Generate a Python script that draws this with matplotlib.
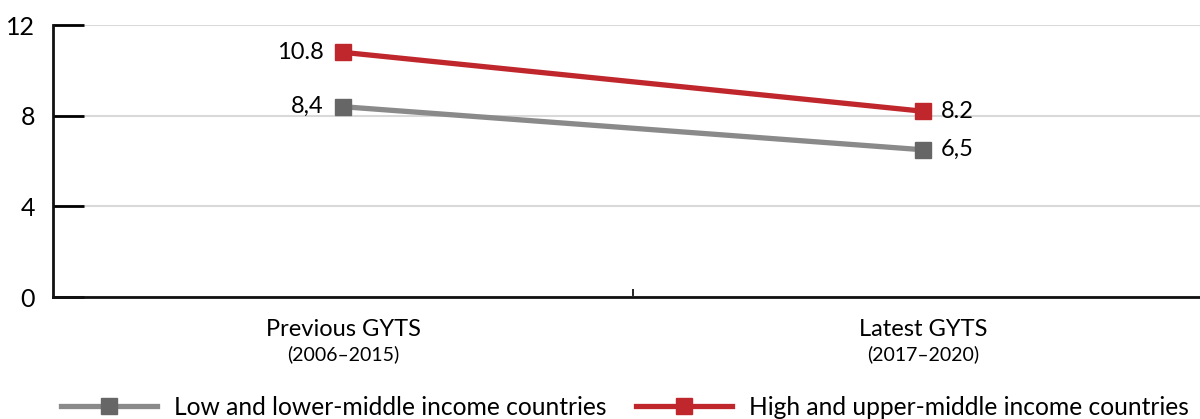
import numpy as np
import matplotlib.pyplot as plt

# categories and values
periods = ["Previous GYTS", "Latest GYTS"]
period_years = ["(2006–2015)", "(2017–2020)"]
low_income = [8.4, 6.5]
high_income = [10.8, 8.2]
low_labels = ["8,4", "6,5"]
high_labels = ["10.8", "8.2"]
y_ticks = [0, 4, 8, 12]

plt.rcParams['font.family'] = ['Lato', 'DejaVu Sans']

fig = plt.figure(figsize=(12, 4.19), dpi=100)
ax = fig.add_axes([0.0442, 0.291, 0.9667, 0.649])

x = np.arange(len(periods))
red = '#c0272d'
grey_line = '#8a8a8a'
grey_mark = '#666666'

ax.plot(x, low_income, color=grey_line, lw=3.8, marker='s', ms=12,
        mfc=grey_mark, mec=grey_mark, label='Low and lower-middle income countries', zorder=3)
ax.plot(x, high_income, color=red, lw=3.8, marker='s', ms=12,
        mfc=red, mec=red, label='High and upper-middle income countries', zorder=4)

# data labels: left of the first point, right of the last point
for i, (lo, hi) in enumerate(zip(low_income, high_income)):
    if i == 0:
        off, ha = -14, 'right'
    else:
        off, ha = 13, 'left'
    ax.annotate(low_labels[i], (x[i], lo), xytext=(off, 0), textcoords='offset points',
                ha=ha, va='center', fontsize=17)
    ax.annotate(high_labels[i], (x[i], hi), xytext=(off, 0), textcoords='offset points',
                ha=ha, va='center', fontsize=17)

ax.set_xlim(-0.5, 1.5)
ax.set_ylim(0, 12)
ax.set_yticks(y_ticks)
ax.tick_params(axis='y', direction='in', length=22, width=2, pad=13, labelsize=18)
ax.grid(axis='y', color='#d9d9d9', lw=1.5)
ax.set_axisbelow(True)

ax.set_xticks(x)
ax.set_xticklabels([])
ax.tick_params(axis='x', length=0)
ax.set_xticks([0.5], minor=True)
ax.tick_params(axis='x', which='minor', direction='in', length=6, width=1.2)

for i in x:
    ax.text(i, -0.12, periods[i], transform=ax.get_xaxis_transform(),
            ha='center', va='center', fontsize=17)
    ax.text(i, -0.21, period_years[i], transform=ax.get_xaxis_transform(),
            ha='center', va='center', fontsize=14)

for side in ['top', 'right']:
    ax.spines[side].set_visible(False)
for side in ['left', 'bottom']:
    ax.spines[side].set_linewidth(2)
    ax.spines[side].set_color('#111111')

fig.legend(loc='center', bbox_to_anchor=(0.521, 0.028), ncol=2, frameon=False,
           fontsize=17.7, handlelength=3.9, columnspacing=1.2, handletextpad=0.7)

fig.savefig('out.png', dpi=100)
